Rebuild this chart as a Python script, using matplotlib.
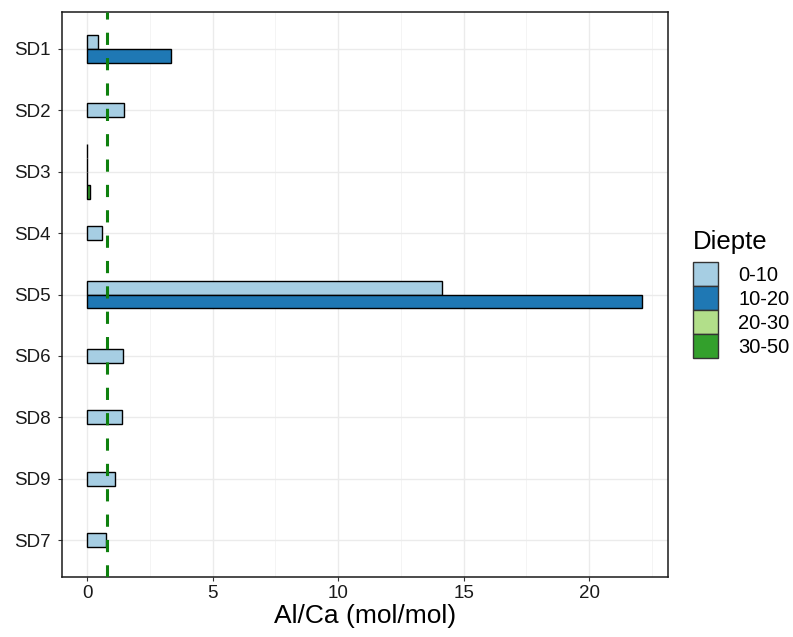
import numpy as np
import matplotlib.pyplot as plt
from matplotlib.patches import Patch

plt.rcParams['font.family'] = ['Liberation Sans', 'DejaVu Sans']

# data
sites = ['SD1', 'SD2', 'SD3', 'SD4', 'SD5', 'SD6', 'SD8', 'SD9', 'SD7']
groups = ['0-10', '10-20', '20-30', '30-50']
nan = np.nan
d0_10 = [0.43, 1.47, 0.0, 0.61, 14.12, 1.42, 1.39, 1.12, 0.77]
d10_20 = [3.35, nan, 0.0, nan, 22.1, nan, nan, nan, nan]
d20_30 = [nan, nan, 0.0, nan, nan, nan, nan, nan, nan]
d30_50 = [nan, nan, 0.1, nan, nan, nan, nan, nan, nan]
threshold = 0.8

colors = ['#A6CEE3', '#1F78B4', '#B2DF8A', '#33A02C']
series = np.array([d0_10, d10_20, d20_30, d30_50])

fig = plt.figure(figsize=(7.93, 6.37), dpi=100)
ax = fig.add_axes([62 / 793, 1 - 577 / 637, 606 / 793, 565 / 637])

bw = 0.9 / 4
for k, site in enumerate(sites):
    present = [g for g in range(4) if not np.isnan(series[g, k])]
    n = len(present)
    for j, g in enumerate(present):
        y = k + (j - (n - 1) / 2) * bw
        ax.barh(y, series[g, k], height=bw, color=colors[g],
                edgecolor='black', linewidth=1.0, zorder=3)

ax.axvline(threshold, color='#0e800e', linestyle=(0, (4, 4.3)), linewidth=2.2, zorder=4)

ax.set_yticks(range(len(sites)))
ax.set_yticklabels(sites)
ax.set_ylim(len(sites) - 0.4, -0.6)
ax.set_xlim(-1.0, 23.14)
ax.set_xticks([0, 5, 10, 15, 20])
ax.set_xticks([2.5, 7.5, 12.5, 17.5, 22.5], minor=True)
ax.grid(True, which='major', color='#EBEBEB', linewidth=1.0, zorder=0)
ax.grid(True, which='minor', axis='x', color='#F3F3F3', linewidth=0.6, zorder=0)
ax.tick_params(axis='both', which='major', labelsize=13.5, colors='#333333',
               length=3, width=0.8, labelcolor='#1a1a1a', pad=3)
ax.tick_params(axis='y', pad=5)
ax.tick_params(axis='x', which='minor', length=0)
for s in ax.spines.values():
    s.set_color('#1a1a1a')
    s.set_linewidth(1.1)
ax.set_xlabel('Al/Ca (mol/mol)', fontsize=19, labelpad=1)

handles = [Patch(facecolor=c, edgecolor='#333333', linewidth=1.0) for c in colors]
leg = fig.legend(handles, groups, title='Diepte', loc='upper left',
                 bbox_to_anchor=(693 / 793, 1 - 230 / 637), frameon=False,
                 fontsize=14.5, title_fontsize=18.5, handlelength=1.24, handleheight=1.45,
                 labelspacing=0.0, handletextpad=1.0, borderaxespad=0, borderpad=0)
leg._legend_box.align = 'left'
leg._legend_box.sep = 6

fig.savefig('out.png', dpi=100)
